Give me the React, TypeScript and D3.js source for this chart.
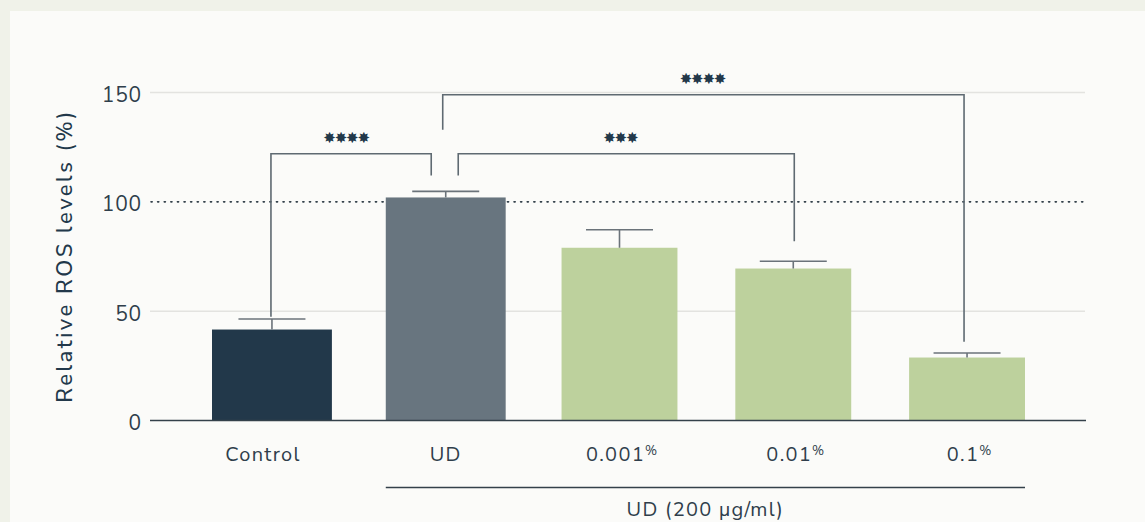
import React, { useEffect, useRef } from "react";
import * as d3 from "d3";

const categories = ["Control", "UD", "0.001", "0.01", "0.1"];
const means = [41.6, 102, 79, 69.5, 28.8];
const errors = [4.8, 2.8, 8.2, 3.3, 2.1];
const barColors = ["#22384a", "#68757f", "#bdd19d", "#bdd19d", "#bdd19d"];
const yTicks = [0, 50, 100, 150];
// significance brackets: from/to bar, label, bracket height, where each leg ends
const brackets = [
  { from: 0, to: 1, label: "****", level: 122, fromEnd: 47.5, toEnd: 112 },
  { from: 1, to: 3, label: "***", level: 122, fromEnd: 112, toEnd: 82 },
  { from: 1, to: 4, label: "****", level: 149, fromEnd: 133, toEnd: 36 },
];

const W = 1145;
const H = 522;
const FONT = "'Nunito Sans', 'Open Sans', Lato, sans-serif";

export default function App() {
  const ref = useRef<SVGSVGElement>(null);

  useEffect(() => {
    if (!ref.current) return;
    const svg = d3.select(ref.current);
    svg.selectAll("*").remove();

    // background + card
    svg.append("rect").attr("width", W).attr("height", H).attr("fill", "#f0f2e9");
    svg.append("rect").attr("x", 10).attr("y", 11).attr("width", W).attr("height", H).attr("fill", "#fbfbf9");

    const x = d3.scaleBand<string>().domain(categories).range([212, 1027]).paddingInner(0.31).paddingOuter(0);
    const y = d3.scaleLinear().domain([0, 150]).range([420.5, 92.5]);
    const cx = (i: number) => (x(categories[i]) as number) + x.bandwidth() / 2;

    // grid
    yTicks.filter((t) => t === 50 || t === 150).forEach((t) => {
      svg.append("line").attr("x1", 150).attr("x2", 1085).attr("y1", y(t)).attr("y2", y(t))
        .attr("stroke", "#e3e3e0").attr("stroke-width", 1.5);
    });
    // reference line at 100
    svg.append("line").attr("x1", 151).attr("x2", 1087).attr("y1", y(100)).attr("y2", y(100))
      .attr("stroke", "#34414b").attr("stroke-width", 1.6).attr("stroke-dasharray", "1.2 5.4")
      .attr("stroke-linecap", "round");

    // y tick labels
    svg.append("g").selectAll("text").data(yTicks).join("text")
      .attr("x", 142).attr("y", (d) => y(d) + 2).attr("dy", "0.36em").attr("text-anchor", "end")
      .attr("font-family", FONT).attr("font-size", 21).attr("letter-spacing", 0.8)
      .attr("fill", "#2f3e4b").text((d) => d);

    // y title
    svg.append("text")
      .attr("transform", `translate(72,256) rotate(-90)`)
      .attr("text-anchor", "middle").attr("font-family", FONT).attr("font-size", 22)
      .attr("font-weight", 500).attr("letter-spacing", 2.5).attr("fill", "#22384a")
      .text("Relative ROS levels (%)");

    // bars (green ones slightly narrower)
    svg.append("g").selectAll("rect").data(categories).join("rect")
      .attr("x", (d, i) => (x(d) as number) + (i > 1 ? 2 : 0))
      .attr("width", (_, i) => x.bandwidth() - (i > 1 ? 4 : 0))
      .attr("y", (_, i) => y(means[i])).attr("height", (_, i) => y(0) - y(means[i]))
      .attr("fill", (_, i) => barColors[i]);

    // error bars
    const eb = svg.append("g").attr("stroke", "#6b737a").attr("stroke-width", 1.6);
    categories.forEach((_, i) => {
      const top = y(means[i] + errors[i]);
      eb.append("line").attr("x1", cx(i)).attr("x2", cx(i)).attr("y1", y(means[i])).attr("y2", top);
      eb.append("line").attr("x1", cx(i) - 33.5).attr("x2", cx(i) + 33.5).attr("y1", top).attr("y2", top);
    });

    // axis baseline
    svg.append("line").attr("x1", 150).attr("x2", 1086).attr("y1", y(0)).attr("y2", y(0))
      .attr("stroke", "#34414b").attr("stroke-width", 1.6);

    // brackets
    const offs = [[-1, -14.5], [12.5, 1], [-3, -3]];
    const labelShift = [-5, -6, -1];
    brackets.forEach((b, k) => {
      const x1 = cx(b.from) + offs[k][0];
      const x2 = cx(b.to) + offs[k][1];
      const yl = y(b.level);
      svg.append("path")
        .attr("d", `M${x1},${y(b.fromEnd)}V${yl}H${x2}V${y(b.toEnd)}`)
        .attr("fill", "none").attr("stroke", "#5f6a72").attr("stroke-width", 1.6);
      svg.append("text").attr("x", (x1 + x2) / 2 + labelShift[k]).attr("y", yl - 15.5)
        .attr("dy", "0.35em").attr("text-anchor", "middle").attr("font-family", "DejaVu Sans")
        .attr("font-size", 15).attr("letter-spacing", -1.2).attr("fill", "#22384a")
        .text(b.label.replace(/\*/g, "✸"));
    });

    // x labels
    const xl = svg.append("g").attr("font-family", FONT).attr("font-size", 20)
      .attr("letter-spacing", 1.3).attr("fill", "#2f3e4b").attr("text-anchor", "middle");
    categories.forEach((c, i) => {
      const t = xl.append("text").attr("x", cx(i) + (i === 0 ? -9 : i > 1 ? 2 : 0)).attr("y", 461);
      t.append("tspan").text(c);
      if (i > 1) t.append("tspan").attr("font-size", 13).attr("dy", -6).attr("letter-spacing", 0).text("%");
    });

    // group line + label
    const gx1 = x(categories[1]) as number;
    const gx2 = (x(categories[4]) as number) + x.bandwidth() - 2;
    svg.append("line").attr("x1", gx1).attr("x2", gx2).attr("y1", 487.5).attr("y2", 487.5)
      .attr("stroke", "#34414b").attr("stroke-width", 1.5);
    svg.append("text").attr("x", (gx1 + gx2) / 2).attr("y", 516).attr("text-anchor", "middle")
      .attr("font-family", FONT).attr("font-size", 20).attr("letter-spacing", 1.3)
      .attr("fill", "#2f3e4b").text("UD (200 μg/ml)");
  }, []);

  return (
    <svg ref={ref} width={W} height={H} style={{ position: "absolute", left: 0, top: 0 }} />
  );
}
